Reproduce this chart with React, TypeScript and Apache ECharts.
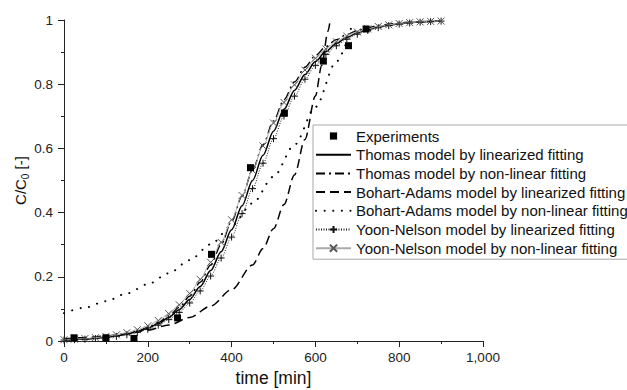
import React, { useEffect, useRef } from "react";
import * as echarts from "echarts";

const modelTimes = [0, 25, 50, 75, 100, 125, 150, 175, 200, 225, 250, 275, 300, 325, 350, 375, 400, 425, 450, 475, 500, 525, 550, 575, 600, 625, 650, 675, 700, 725, 750, 775, 800, 825, 850, 875, 900];

const thomasLin = [0.0033, 0.0045, 0.0062, 0.0085, 0.0116, 0.0159, 0.0217, 0.0295, 0.0401, 0.0543, 0.0731, 0.0977, 0.1295, 0.1697, 0.2193, 0.2784, 0.3464, 0.4213, 0.5, 0.5787, 0.6536, 0.7216, 0.7807, 0.8303, 0.8705, 0.9023, 0.9269, 0.9457, 0.9599, 0.9705, 0.9783, 0.9841, 0.9884, 0.9915, 0.9938, 0.9955, 0.9967];

const thomasNonLin = [0.0033, 0.0045, 0.0062, 0.0086, 0.0119, 0.0164, 0.0225, 0.0309, 0.0423, 0.0576, 0.078, 0.1048, 0.1394, 0.1832, 0.2369, 0.3005, 0.3729, 0.4514, 0.5325, 0.6118, 0.6857, 0.7512, 0.8069, 0.8526, 0.889, 0.9172, 0.9388, 0.955, 0.9671, 0.976, 0.9825, 0.9873, 0.9908, 0.9933, 0.9952, 0.9965, 0.9975];

const yoonLin = [0.003, 0.0041, 0.0056, 0.0077, 0.0105, 0.0144, 0.0196, 0.0268, 0.0364, 0.0493, 0.0665, 0.0891, 0.1185, 0.1559, 0.2023, 0.2585, 0.3237, 0.3968, 0.4746, 0.5538, 0.6303, 0.7008, 0.7628, 0.8155, 0.8586, 0.8929, 0.9197, 0.9402, 0.9558, 0.9674, 0.9761, 0.9825, 0.9872, 0.9906, 0.9932, 0.995, 0.9964];

const yoonNonLin = [0.0041, 0.0056, 0.0076, 0.0103, 0.0141, 0.0191, 0.026, 0.0352, 0.0474, 0.0637, 0.0851, 0.1128, 0.148, 0.1919, 0.2451, 0.3073, 0.3775, 0.4533, 0.5312, 0.6077, 0.6792, 0.7432, 0.7982, 0.8439, 0.8808, 0.9099, 0.9325, 0.9497, 0.9627, 0.9724, 0.9797, 0.985, 0.989, 0.9919, 0.9941, 0.9957, 0.9968];

const bohartLinTimes = [0, 50, 100, 150, 200, 250, 300, 350, 400, 450, 475, 500, 525, 550, 575, 600, 615, 630, 635];
const bohartLinValues = [0.0071, 0.0105, 0.0155, 0.0228, 0.0337, 0.0498, 0.0735, 0.1086, 0.16, 0.237, 0.288, 0.35, 0.425, 0.517, 0.628, 0.763, 0.858, 0.965, 0.997];

const bohartNonLinTimes = [0, 50, 100, 150, 200, 250, 300, 350, 400, 450, 500, 550, 600, 650, 690];
const bohartNonLinValues = [0.087, 0.104, 0.124, 0.148, 0.177, 0.211, 0.252, 0.301, 0.359, 0.429, 0.512, 0.611, 0.729, 0.87, 0.995];

const expTimes = [24, 100, 167, 271, 352, 445, 526, 619, 679, 721];
const expValues = [0.01, 0.01, 0.008, 0.072, 0.27, 0.54, 0.71, 0.872, 0.92, 0.972];

const xTickLabels = ["0", "200", "400", "600", "800", "1,000"];
const yTickLabels = ["0", "0.2", "0.4", "0.6", "0.8", "1"];

const seriesNames = [
  "Experiments",
  "Thomas model by linearized fitting",
  "Thomas model by non-linear fitting",
  "Bohart-Adams model by linearized fitting",
  "Bohart-Adams model by non-linear fitting",
  "Yoon-Nelson model by linearized fitting",
  "Yoon-Nelson model by non-linear fitting",
];

const zip = (xs: number[], ys: number[]) => xs.map((x, i) => [x, ys[i]]);

const FONT = "Liberation Sans, Arial, sans-serif";
const PLUS = "path://M0,5L10,5M5,0L5,10";
const CROSS = "path://M0,0L10,10M10,0L0,10";

export default function App() {
  const ref = useRef<HTMLDivElement>(null);
  useEffect(() => {
    document.body.style.margin = "0";
    if (!ref.current) return;
    const chart = echarts.init(ref.current, undefined, { renderer: "svg" });
    const hidden = { color: "rgba(0,0,0,0)", borderWidth: 0 };
    const lineBase = {
      type: "line" as const,
      symbol: "none",
      smooth: 0.3,
      smoothMonotone: "x" as const,
      itemStyle: hidden,
      emphasis: { disabled: true },
    };
    chart.setOption({
      animation: false,
      textStyle: { fontFamily: FONT },
      grid: { left: 64, right: 144, top: 20, bottom: 49, containLabel: false, outerBoundsMode: "none" },
      legend: {
        orient: "vertical",
        left: 313,
        top: 125,
        padding: [3, 4, 3, 2],
        itemWidth: 35,
        itemHeight: 9,
        itemGap: 2.7,
        selectedMode: false,
        borderColor: "#a8a8a8",
        borderWidth: 1,
        backgroundColor: "#fff",
        textStyle: { fontSize: 15, color: "#111", fontFamily: FONT, lineHeight: 16 },
        data: seriesNames,
      },
      xAxis: {
        type: "value",
        min: 0,
        max: 1000,
        interval: 200,
        name: "time [min]",
        nameLocation: "middle",
        nameGap: 28,
        nameMoveOverlap: false,
        nameTextStyle: { fontSize: 17.5, color: "#111", fontFamily: FONT },
        axisLine: { show: true, onZero: false, lineStyle: { color: "#222", width: 1 } },
        axisTick: { show: true, inside: false, length: 6, lineStyle: { color: "#222" } },
        minorTick: { show: true, splitNumber: 2, length: 3, lineStyle: { color: "#222" } },
        splitLine: { show: false },
        axisLabel: {
          fontSize: 13.5,
          color: "#222",
          margin: 9,
          formatter: (v: number) => xTickLabels[Math.round(v / 200)] ?? "",
        },
      },
      yAxis: {
        type: "value",
        min: 0,
        max: 1,
        interval: 0.2,
        name: "{a|C/C}{b|0}{a| [-]}",
        nameLocation: "middle",
        nameGap: 34,
        nameMoveOverlap: false,
        nameTextStyle: {
          color: "#111",
          fontFamily: FONT,
          rich: {
            a: { fontSize: 15, lineHeight: 20, color: "#111", fontFamily: FONT },
            b: { fontSize: 10, lineHeight: 20, verticalAlign: "bottom", color: "#111", fontFamily: FONT },
          },
        },
        axisLine: { show: true, onZero: false, lineStyle: { color: "#222", width: 1 } },
        axisTick: { show: true, inside: false, length: 6, lineStyle: { color: "#222" } },
        minorTick: { show: true, splitNumber: 2, length: 3, lineStyle: { color: "#222" } },
        splitLine: { show: false },
        axisLabel: {
          fontSize: 13.5,
          color: "#222",
          margin: 11,
          formatter: (v: number) => yTickLabels[Math.round(v / 0.2)] ?? "",
        },
      },
      series: [
        {
          type: "line",
          name: seriesNames[0],
          data: zip(expTimes, expValues),
          symbol: "rect",
          symbolSize: 7,
          itemStyle: { color: "#000" },
          lineStyle: { color: "rgba(0,0,0,0)", opacity: 0, width: 0 },
          z: 10,
          emphasis: { disabled: true },
        },
        {
          ...lineBase,
          name: seriesNames[1],
          data: zip(modelTimes, thomasLin),
          lineStyle: { color: "#000", width: 1.5 },
        },
        {
          ...lineBase,
          name: seriesNames[2],
          data: zip(modelTimes, thomasNonLin),
          lineStyle: { color: "#000", width: 1.4, type: [9, 4, 2, 4] },
        },
        {
          ...lineBase,
          name: seriesNames[3],
          data: zip(bohartLinTimes, bohartLinValues),
          lineStyle: { color: "#000", width: 1.5, type: [9, 5] },
        },
        {
          ...lineBase,
          name: seriesNames[4],
          data: zip(bohartNonLinTimes, bohartNonLinValues),
          lineStyle: { color: "#000", width: 2, type: [0.1, 8.5], cap: "round" },
        },
        {
          ...lineBase,
          name: seriesNames[5],
          data: zip(modelTimes, yoonLin),
          symbol: PLUS,
          symbolSize: 7,
          showSymbol: true,
          itemStyle: { color: "#111", borderColor: "#111", borderWidth: 1 },
          lineStyle: { color: "#222", width: 1, type: [1, 1.5] },
        },
        {
          ...lineBase,
          name: seriesNames[6],
          data: zip(modelTimes, yoonNonLin),
          symbol: CROSS,
          symbolSize: 7,
          showSymbol: true,
          itemStyle: { color: "#555", borderColor: "#555", borderWidth: 1 },
          lineStyle: { color: "#aaa", width: 1 },
        },
      ],
    });
    return () => chart.dispose();
  }, []);
  return <div ref={ref} style={{ width: 627, height: 390 }} />;
}
